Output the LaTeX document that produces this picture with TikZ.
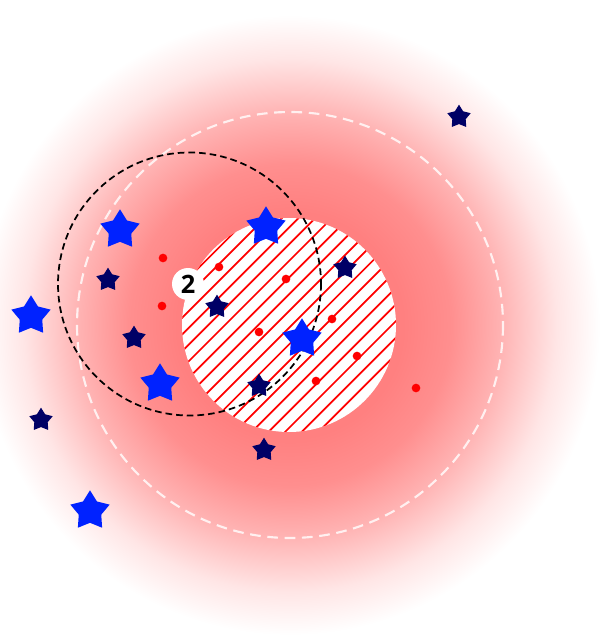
\documentclass[tikz,border=0pt]{standalone}
\usepackage{fontspec}
\usepackage{xcolor}
\usepackage{tikz}
\usetikzlibrary{shapes.geometric}

\newfontfamily\labelfont{Open Sans}
\definecolor{navystar}{RGB}{0,0,102}
\definecolor{brightstar}{RGB}{0,34,255}
\pgfdeclareradialshading{redglow}{\pgfpointorigin}{%
	color(0bp)=(red!50); color(9bp)=(red!50); color(13bp)=(red!44);
	color(17bp)=(red!30); color(21.5bp)=(red!10); color(25bp)=(white);
	color(50bp)=(white)}

\begin{document}
\begin{tikzpicture}[
			x=0.75pt, y=-0.75pt,
			darkst/.style ={star, star points=5, star point ratio=1.75, inner sep=0pt,
				minimum size=18.5pt, fill=navystar},
			brightst/.style={star, star points=5, star point ratio=1.75, inner sep=0pt,
				minimum size=31pt, fill=brightstar},
			reddot/.style ={circle, fill=red, inner sep=0pt, minimum size=6.5pt},
			hatchline/.style={red, line width=1.3pt},
			tag/.style={circle, fill=white, inner sep=0pt, minimum size=24pt,
				font=\labelfont\bfseries\fontsize{19}{19}\selectfont},
			]
			
			\useasboundingbox (0,0) rectangle (601,639);
			
			%% ── Red glow ─────────────────────────────────────────────────────────────────
			\shade[shading=redglow] (290,325) circle (310);
			
			%% ── Outer dashed ring ────────────────────────────────────────────────────────
			\draw[white, opacity=0.8, line width=1.6pt, dash pattern=on 8pt off 5pt]
				(290,325) circle (213);
			
			%% ── Hatched disc ─────────────────────────────────────────────────────────────
			\fill[white] (289,325) circle (107);
			\begin{scope}
				\clip (289,325) circle (107);
				\foreach \c in {-10,...,10}
					\draw[hatchline] (291.8+\c*16.7-130, 325+130) -- ++(260,-260);
			\end{scope}
			
			%% ── Black dashed ring ────────────────────────────────────────────────────────
			\draw[black, line width=1.3pt, dash pattern=on 5pt off 3pt]
				(189.5,284) circle (131.5);
			
			%% ── Red dots ─────────────────────────────────────────────────────────────────
			\foreach \x/\y [count=\i] in {163/258, 162/306, 219/267, 286/279, 259/332,
				332/319, 357/356, 316/381, 416/388}
				\node[reddot] (dot\i) at (\x,\y) {};
			
			%% ── Dark stars ───────────────────────────────────────────────────────────────
			\foreach \x/\y [count=\i] in {459/117, 108/280, 134/338, 217/307, 345/268,
				259/386, 264/450, 41/420}
				\node[darkst] (dark\i) at (\x,\y) {};
			
			%% ── Bright stars ─────────────────────────────────────────────────────────────
			\foreach \x/\y [count=\i] in {120/230, 31/316, 160/384, 266/227, 302/339,
				90/511}
				\node[brightst] (bright\i) at (\x,\y) {};
			
			%% ── Tag ──────────────────────────────────────────────────────────────────────
			\node[tag] (two) at (188,284) {2};
			
		\end{tikzpicture}
\end{document}
